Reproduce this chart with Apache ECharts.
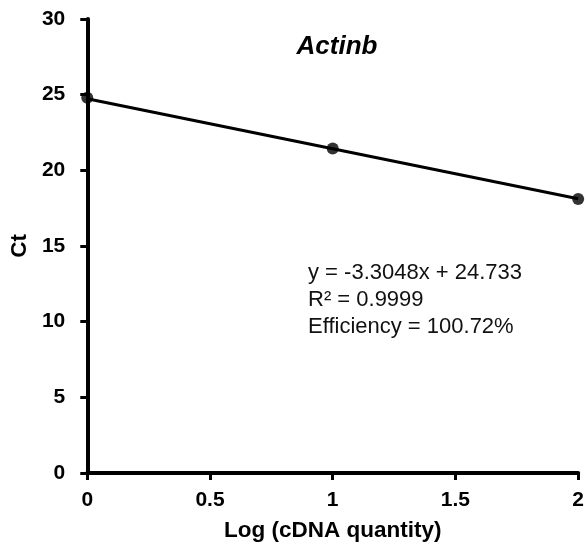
<!DOCTYPE html>
<html>
<head>
<meta charset="utf-8">
<script src="https://cdn.jsdelivr.net/npm/echarts@6/dist/echarts.min.js"></script>
<style>
  html, body { margin: 0; padding: 0; background: #fff; }
  #chart { width: 587px; height: 553px; }
</style>
</head>
<body>
<div id="chart"></div>
<script>
// Standard curve for Actinb: Ct versus log cDNA quantity
const logQuantity = [0, 1, 2];
const ctValues = [24.8, 21.45, 18.1];

// Linear fit reported on the chart
const slope = -3.3048;
const intercept = 24.733;
const rSquared = '0.9999';
const efficiency = '100.72%';
const trendX = [0, 2];

const xTicks = { min: 0, max: 2, interval: 0.5 };
const yTicks = { min: 0, max: 30, interval: 5 };

const FONT = '"Liberation Sans", Arial, sans-serif';

const chart = echarts.init(document.getElementById('chart'), null, { renderer: 'canvas' });

const scatterData = logQuantity.map((x, i) => [x, ctValues[i]]);
const trendData = trendX.map(x => [x, intercept + slope * x]);

const axisCommon = {
  axisLine: { show: true, onZero: false, lineStyle: { color: '#000', width: 4 } },
  axisTick: { show: true, inside: false, length: 7, lineStyle: { color: '#000', width: 3 } },
  splitLine: { show: false },
  axisLabel: { color: '#000', fontFamily: FONT, fontWeight: 'bold', fontSize: 21 },
  nameTextStyle: { color: '#000', fontFamily: FONT, fontWeight: 'bold', fontSize: 22.5 }
};

chart.setOption({
  animation: false,
  backgroundColor: '#fff',
  grid: { left: 86, right: 8, top: 19, bottom: 80, containLabel: false },
  xAxis: Object.assign({}, axisCommon, {
    type: 'value',
    min: xTicks.min, max: xTicks.max, interval: xTicks.interval,
    name: 'Log (cDNA quantity)',
    nameLocation: 'middle',
    nameGap: 46,
    axisLabel: Object.assign({}, axisCommon.axisLabel, { margin: 17 })
  }),
  yAxis: Object.assign({}, axisCommon, {
    type: 'value',
    min: yTicks.min, max: yTicks.max, interval: yTicks.interval,
    name: 'Ct',
    nameLocation: 'middle',
    nameRotate: 90,
    nameGap: 52,
    axisLabel: Object.assign({}, axisCommon.axisLabel, { margin: 22 })
  }),
  series: [
    {
      type: 'line',
      data: trendData,
      showSymbol: false,
      symbol: 'none',
      lineStyle: { color: '#000', width: 3 },
      z: 2
    },
    {
      type: 'scatter',
      data: scatterData,
      symbol: 'circle',
      symbolSize: 12,
      itemStyle: { color: '#000' },
      z: 3
    }
  ],
  graphic: [
    {
      type: 'text',
      x: 337,
      y: 47,
      style: {
        text: 'Actinb',
        fontFamily: FONT,
        fontWeight: 'bold',
        fontStyle: 'italic',
        fontSize: 26,
        fill: '#000',
        textAlign: 'center',
        textVerticalAlign: 'middle'
      }
    },
    {
      type: 'text',
      left: 308,
      top: 259,
      style: {
        text: 'y = ' + slope + 'x + ' + intercept + '\nR\u00B2 = ' + rSquared + '\nEfficiency = ' + efficiency,
        fontFamily: FONT,
        fontSize: 22,
        lineHeight: 27,
        fill: '#111'
      }
    }
  ]
});
</script>
</body>
</html>
